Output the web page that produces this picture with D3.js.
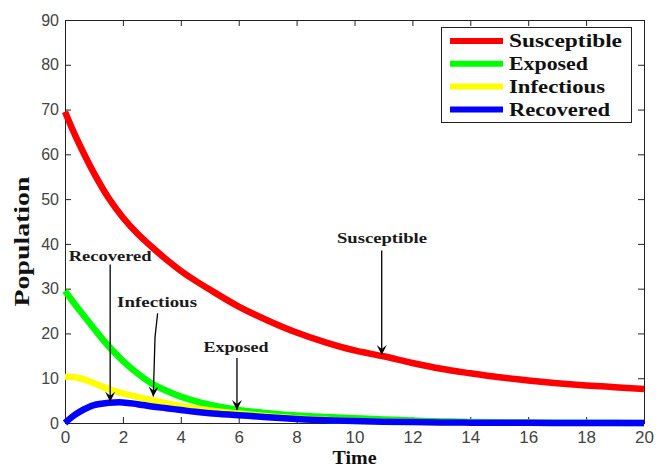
<!DOCTYPE html>
<html>
<head>
<meta charset="utf-8">
<script src="https://cdn.jsdelivr.net/npm/d3@7"></script>
<style>
  html, body { margin: 0; padding: 0; background: #fff; }
  svg { display: block; }
</style>
</head>
<body>
<svg id="chart" width="665" height="468"></svg>
<script>
// SEIR model output: population of each compartment over time
const time        = [0, 0.25, 0.5, 1, 1.5, 2, 2.5, 3, 3.5, 4, 4.5, 5, 6, 7, 8, 9, 10, 11, 12, 13, 14, 15, 16, 17, 18, 19, 20];
const susceptible = [69.5, 65.7, 62.2, 55.8, 50.3, 45.9, 42.3, 39.3, 36.5, 34.0, 31.8, 29.8, 26.0, 22.9, 20.2, 18.0, 16.2, 14.9, 13.4, 12.1, 11.1, 10.2, 9.5, 8.9, 8.4, 8.0, 7.6];
const exposed     = [29.5, 27.3, 25.2, 21.1, 17.2, 13.9, 11.1, 8.8, 7.2, 5.9, 4.9, 4.1, 2.9, 2.2, 1.7, 1.35, 1.05, 0.8, 0.55, 0.35, 0.22, 0.14, 0.09, 0.06, 0.04, 0.03, 0.02];
const infectious  = [10.3, 10.3, 10.0, 8.9, 7.6, 6.6, 5.8, 5.1, 4.4, 3.8, 3.3, 2.8, 2.1, 1.5, 1.0, 0.7, 0.45, 0.3, 0.2, 0.12, 0.08, 0.05, 0.03, 0.02, 0.01, 0.01, 0.01];
const recovered   = [0.0, 1.4, 2.5, 4.0, 4.5, 4.6, 4.2, 3.7, 3.3, 2.9, 2.5, 2.2, 1.75, 1.3, 0.9, 0.6, 0.45, 0.3, 0.2, 0.12, 0.08, 0.05, 0.03, 0.02, 0.02, 0.02, 0.02];

const seriesNames  = ["Susceptible", "Exposed", "Infectious", "Recovered"];
const seriesColors = ["#ff0000", "#00ff00", "#ffff00", "#0000ff"];
const seriesValues = [susceptible, exposed, infectious, recovered];

const xTicks = [0, 2, 4, 6, 8, 10, 12, 14, 16, 18, 20];
const yTicks = [0, 10, 20, 30, 40, 50, 60, 70, 80, 90];

// Callouts: label position and the curve point the arrow lands on (data units)
const calloutText   = ["Recovered", "Infectious", "Exposed", "Susceptible"];
const calloutLabelT = [1.56, 3.18, 5.91, 10.95];
const calloutLabelV = [37.3, 27.0, 17.0, 41.3];
const calloutPath   = [
  [[1.56, 35.4], [1.56, 4.75]],
  [[3.20, 24.5], [3.11, 19.2], [3.05, 5.9]],
  [[5.94, 14.5], [5.94, 2.9]],
  [[10.94, 38.5], [10.94, 15.2]]
];
const calloutWidth = [83, 80, 65, 90];

const svg = d3.select("#chart");
const margin = { left: 65, top: 20, right: 21, bottom: 45 };
const W = 665, H = 468;
const x = d3.scaleLinear().domain([0, 20]).range([margin.left, W - margin.right]);
const y = d3.scaleLinear().domain([0, 90]).range([H - margin.bottom, margin.top]);

const tickFont = "'Liberation Sans', Arial, sans-serif";
const serif = "'Liberation Serif', 'Times New Roman', serif";

// Axes with inward ticks on all four sides
const tickLen = 6;
const gx = svg.append("g").attr("transform", `translate(0,${y(0)})`)
  .call(d3.axisBottom(x).tickValues(xTicks).tickSizeInner(-tickLen).tickSizeOuter(0).tickPadding(8).tickFormat(d3.format("d")));
const gy = svg.append("g").attr("transform", `translate(${x(0)},0)`)
  .call(d3.axisLeft(y).tickValues(yTicks).tickSizeInner(-tickLen).tickSizeOuter(0).tickPadding(6).tickFormat(d3.format("d")));
const gt = svg.append("g").attr("transform", `translate(0,${y(90)})`)
  .call(d3.axisTop(x).tickValues(xTicks).tickSizeInner(-tickLen).tickSizeOuter(0).tickFormat(""));
const gr = svg.append("g").attr("transform", `translate(${x(20)},0)`)
  .call(d3.axisRight(y).tickValues(yTicks).tickSizeInner(-tickLen).tickSizeOuter(0).tickFormat(""));

[gx, gy, gt, gr].forEach(g => {
  g.select(".domain").remove();
  g.selectAll(".tick line").attr("stroke", "#222").attr("stroke-width", 1);
});
gx.selectAll(".tick text").attr("font-family", tickFont).attr("font-size", 17).attr("fill", "#444");
gy.selectAll(".tick text").attr("font-family", tickFont).attr("font-size", 16).attr("fill", "#444");

// Frame
svg.append("rect")
  .attr("x", x(0) + 0.5).attr("y", y(90) + 0.5)
  .attr("width", x(20) - x(0)).attr("height", y(0) - y(90))
  .attr("fill", "none").attr("stroke", "#222").attr("stroke-width", 1);

// Curves
const line = d3.line().x((d, i) => x(time[i])).y(d => y(d)).curve(d3.curveCatmullRom.alpha(0.5));
seriesValues.forEach((vals, k) => {
  svg.append("path")
    .attr("d", line(vals))
    .attr("fill", "none")
    .attr("stroke", seriesColors[k])
    .attr("stroke-width", 6.5)
    .attr("stroke-linejoin", "round");
});

// Arrowhead
svg.append("defs").append("marker")
  .attr("id", "arrowhead")
  .attr("viewBox", "-11 -6 12 12")
  .attr("refX", 0).attr("refY", 0)
  .attr("markerWidth", 12).attr("markerHeight", 12)
  .attr("markerUnits", "userSpaceOnUse")
  .attr("orient", "auto")
  .append("path")
  .attr("d", "M0,0 L-10,-5 L-6,0 L-10,5 Z")
  .attr("fill", "#000");

const calloutLine = d3.line().x(d => x(d[0])).y(d => y(d[1]));
calloutPath.forEach(pts => {
  svg.append("path")
    .attr("d", calloutLine(pts))
    .attr("fill", "none")
    .attr("stroke", "#000")
    .attr("stroke-width", 1.3)
    .attr("marker-end", "url(#arrowhead)");
});
calloutText.forEach((t, i) => {
  svg.append("text")
    .attr("x", x(calloutLabelT[i]) - calloutWidth[i] / 2)
    .attr("y", y(calloutLabelV[i]))
    .attr("dy", "0.35em")
    .attr("font-family", serif)
    .attr("font-weight", "bold")
    .attr("font-size", 15)
    .attr("fill", "#1a1a1a")
    .attr("textLength", calloutWidth[i])
    .attr("lengthAdjust", "spacingAndGlyphs")
    .text(t);
});

// Axis titles
svg.append("text")
  .attr("x", (x(0) + x(20)) / 2).attr("y", 458)
  .attr("dy", "0.35em")
  .attr("text-anchor", "middle")
  .attr("font-family", serif).attr("font-weight", "bold").attr("font-size", 18)
  .attr("fill", "#111")
  .attr("textLength", 44).attr("lengthAdjust", "spacingAndGlyphs")
  .text("Time");
svg.append("text")
  .attr("transform", `translate(22,${(y(0) + y(90)) / 2 + 20}) rotate(-90)`)
  .attr("dy", "0.35em")
  .attr("text-anchor", "middle")
  .attr("font-family", serif).attr("font-weight", "bold").attr("font-size", 20)
  .attr("fill", "#111")
  .attr("textLength", 130).attr("lengthAdjust", "spacingAndGlyphs")
  .text("Population");

// Legend
const legendWidths = [113, 79, 96, 101];
const legend = svg.append("g");
legend.append("rect")
  .attr("x", 441.5).attr("y", 27.5).attr("width", 190).attr("height", 95)
  .attr("fill", "#fff").attr("stroke", "#222").attr("stroke-width", 1);
seriesNames.forEach((name, i) => {
  const ly = 41 + i * 22.8;
  legend.append("line")
    .attr("x1", 450).attr("x2", 503).attr("y1", ly).attr("y2", ly)
    .attr("stroke", seriesColors[i]).attr("stroke-width", 6);
  legend.append("text")
    .attr("x", 509).attr("y", ly).attr("dy", "0.35em")
    .attr("font-family", serif).attr("font-weight", "bold").attr("font-size", 18)
    .attr("fill", "#111")
    .attr("textLength", legendWidths[i]).attr("lengthAdjust", "spacingAndGlyphs")
    .text(name);
});
</script>
</body>
</html>
